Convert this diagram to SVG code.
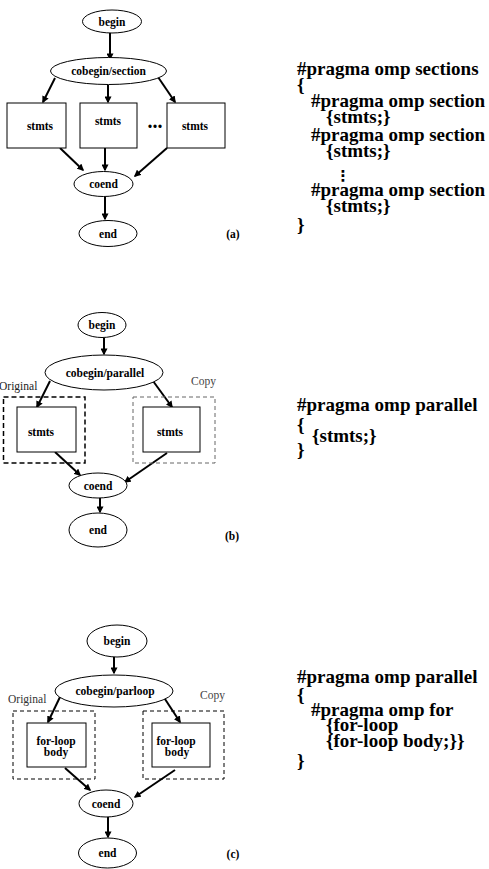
<svg xmlns="http://www.w3.org/2000/svg" width="489" height="869" viewBox="0 0 489 869">
<style>
.n{fill:#fff;stroke:#000;stroke-width:1}
.t{font-family:"Liberation Serif","Times New Roman",serif;font-weight:bold;font-size:11.5px;text-anchor:middle;fill:#000}
.lab{font-family:"Liberation Serif","Times New Roman",serif;font-size:11.5px;fill:#333}
.code{font-family:"Liberation Serif","Times New Roman",serif;font-weight:bold;font-size:19px;fill:#000}
.a{stroke:#000;stroke-width:2;fill:none;marker-end:url(#ah)}
.dk{fill:none;stroke:#000;stroke-width:1.5;stroke-dasharray:5,3}
.dg{fill:none;stroke:#666;stroke-width:1;stroke-dasharray:4,3}
.dc{fill:none;stroke:#000;stroke-width:1;stroke-dasharray:4,3}
</style>
<defs>
<marker id="ah" viewBox="0 0 10 10" refX="8" refY="5" markerWidth="7" markerHeight="7" markerUnits="userSpaceOnUse" orient="auto"><path d="M0,0 L10,5 L0,10 z" fill="#000"/></marker>
</defs>
<rect width="489" height="869" fill="#fff"/>

<!-- Panel (a) -->
<g id="connectors-a">
<line class="a" x1="110" y1="33" x2="110" y2="59"/>
<line class="a" x1="55" y1="78" x2="43" y2="102"/>
<line class="a" x1="108" y1="85" x2="108" y2="102"/>
<line class="a" x1="158" y1="77" x2="175" y2="102"/>
<line class="a" x1="60" y1="148" x2="83" y2="170"/>
<line class="a" x1="105" y1="148" x2="105" y2="170"/>
<line class="a" x1="167" y1="148" x2="135" y2="176"/>
<line class="a" x1="105" y1="197" x2="105" y2="219"/>
</g>
<g id="a-begin"><ellipse class="n" cx="112" cy="21.5" rx="29.5" ry="11.5"/><text class="t" x="112" y="25.5">begin</text></g>
<g id="a-cobegin"><ellipse class="n" cx="108.5" cy="71" rx="58" ry="13.5"/><text class="t" x="108.5" y="75">cobegin/section</text></g>
<g id="a-s1"><rect class="n" x="7" y="103" width="59" height="45"/><text class="t" x="40" y="130">stmts</text></g>
<g id="a-s2"><rect class="n" x="80" y="103" width="57" height="45"/><text class="t" x="108" y="125">stmts</text></g>
<g id="a-dots"><text class="t" x="155" y="127.5" style="font-size:20px">...</text></g>
<g id="a-s3"><rect class="n" x="167" y="103" width="58" height="45"/><text class="t" x="195" y="130">stmts</text></g>
<g id="a-coend"><ellipse class="n" cx="103.5" cy="184" rx="29.5" ry="12.5"/><text class="t" x="103.5" y="188">coend</text></g>
<g id="a-end"><ellipse class="n" cx="108" cy="233.5" rx="29" ry="13"/><text class="t" x="108" y="237.5">end</text></g>
<text class="t" x="233" y="238">(a)</text>
<g id="a-code">
<text class="code" x="297" y="75">#pragma omp sections</text>
<text class="code" x="297" y="91">{</text>
<text class="code" x="311" y="107">#pragma omp section</text>
<text class="code" x="326" y="123">{stmts;}</text>
<text class="code" x="311" y="141">#pragma omp section</text>
<text class="code" x="326" y="157">{stmts;}</text>
<text x="343" y="181" style="font-family:'DejaVu Sans',sans-serif;font-weight:bold;font-size:15px;text-anchor:middle">⋮</text>
<text class="code" x="311" y="196">#pragma omp section</text>
<text class="code" x="326" y="212">{stmts;}</text>
<text class="code" x="297" y="231">}</text>
</g>

<!-- Panel (b) -->
<g id="connectors-b">
<line class="a" x1="104" y1="338" x2="104" y2="354"/>
<line class="a" x1="50" y1="381" x2="37" y2="407"/>
<line class="a" x1="153" y1="381" x2="172" y2="407"/>
<line class="a" x1="55" y1="452" x2="80" y2="475"/>
<line class="a" x1="167" y1="453" x2="125" y2="482"/>
<line class="a" x1="100" y1="498" x2="100" y2="512"/>
</g>
<g id="b-begin"><ellipse class="n" cx="102" cy="325" rx="24" ry="12.5"/><text class="t" x="102" y="329">begin</text></g>
<g id="b-cobegin"><ellipse class="n" cx="104" cy="372.5" rx="59" ry="17.5"/><text class="t" x="105" y="376.5">cobegin/parallel</text></g>
<g id="b-orig"><text class="lab" x="-1" y="390" style="fill:#222">Original</text><rect class="dk" x="3.5" y="397" width="81.5" height="66"/></g>
<g id="b-copy"><text class="lab" x="191" y="385" style="fill:#444">Copy</text><rect class="dg" x="133" y="397" width="82" height="66"/></g>
<g id="b-s1"><rect class="n" x="17" y="407" width="59" height="45"/><text class="t" x="41" y="436">stmts</text></g>
<g id="b-s2"><rect class="n" x="143" y="407" width="57" height="45"/><text class="t" x="170" y="436">stmts</text></g>
<g id="b-coend"><ellipse class="n" cx="98" cy="485.5" rx="29" ry="12.5"/><text class="t" x="98" y="489.5">coend</text></g>
<g id="b-end"><ellipse class="n" cx="98" cy="530" rx="29" ry="17"/><text class="t" x="98" y="534">end</text></g>
<text class="t" x="232" y="540">(b)</text>
<g id="b-code">
<text class="code" x="297" y="411">#pragma omp parallel</text>
<text class="code" x="297" y="431">{</text>
<text class="code" x="312" y="442">{stmts;}</text>
<text class="code" x="297" y="456">}</text>
</g>

<!-- Panel (c) -->
<g id="connectors-c">
<line class="a" x1="114" y1="657" x2="114" y2="673"/>
<line class="a" x1="60" y1="697" x2="48" y2="722"/>
<line class="a" x1="163" y1="696" x2="180" y2="722"/>
<line class="a" x1="65" y1="768" x2="90" y2="790"/>
<line class="a" x1="175" y1="770" x2="135" y2="797"/>
<line class="a" x1="108" y1="817" x2="108" y2="837"/>
</g>
<g id="c-begin"><ellipse class="n" cx="117" cy="641" rx="30" ry="16"/><text class="t" x="117" y="645">begin</text></g>
<g id="c-cobegin"><ellipse class="n" cx="114" cy="691" rx="59" ry="16"/><text class="t" x="115" y="695">cobegin/parloop</text></g>
<g id="c-orig"><text class="lab" x="8" y="703">Original</text><rect class="dc" x="13" y="711" width="82" height="68"/></g>
<g id="c-copy"><text class="lab" x="200" y="699" style="fill:#444">Copy</text><rect class="dc" x="143" y="711" width="81" height="68"/></g>
<g id="c-b1"><rect class="n" x="27" y="723" width="59" height="44"/><text class="t" x="56" y="745">for-loop</text><text class="t" x="56" y="756">body</text></g>
<g id="c-b2"><rect class="n" x="152" y="723" width="58" height="44"/><text class="t" x="176" y="745">for-loop</text><text class="t" x="177" y="756">body</text></g>
<g id="c-coend"><ellipse class="n" cx="106" cy="803.5" rx="27" ry="13.5"/><text class="t" x="106" y="807.5">coend</text></g>
<g id="c-end"><ellipse class="n" cx="107.5" cy="853" rx="29" ry="15"/><text class="t" x="107.5" y="857">end</text></g>
<text class="t" x="233" y="858">(c)</text>
<g id="c-code">
<text class="code" x="297" y="683">#pragma omp parallel</text>
<text class="code" x="297" y="701">{</text>
<text class="code" x="311" y="716">#pragma omp for</text>
<text class="code" x="326" y="731">{for-loop</text>
<text class="code" x="326" y="747">{for-loop body;}}</text>
<text class="code" x="297" y="767">}</text>
</g>
</svg>
